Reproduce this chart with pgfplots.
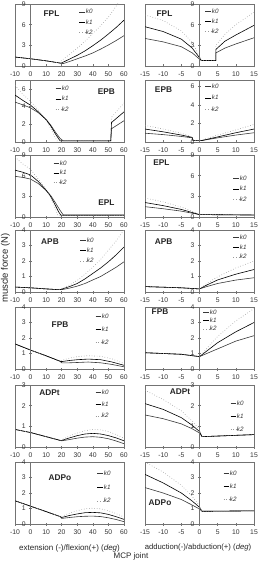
\documentclass[border=0pt]{standalone}
\usepackage{fontspec}
\setmainfont{Liberation Sans}
\usepackage{pgfplots}
\pgfplotsset{compat=1.18}

\definecolor{kzero}{gray}{0.22}
\definecolor{kone}{gray}{0.0}
\definecolor{ktwo}{gray}{0.6}
\definecolor{frame}{gray}{0.45}

\pgfplotsset{
  common/.style={
    scale only axis, width=109pt, height=62pt, ymin=0,
    tick align=center, major tick length=3pt,
    tick style={draw=frame, line width=0.5pt},
    every tick label/.append style={font=\fontsize{6.8}{7}\selectfont, text=black!80},
    /pgf/number format/assume math mode=true,
  },
  % data axis: frame plus x ticks along the bottom edge
  mcp/.style={
    common,
    axis line style={draw=frame, line width=0.5pt},
    xtick pos=left, ytick=\empty,
    xticklabel style={yshift=-1pt},
    legend style={draw=none, fill=none, inner sep=0pt, anchor=north west,
      font=\fontsize{6.3}{7}\selectfont\itshape, text=black!80,
      nodes={inner sep=0.6pt, text height=4.6pt, text depth=1pt}},
    legend cell align=left,
    legend image code/.code={\draw[#1] (0pt,0pt) -- (5.5pt,0pt);},
  },
  % overlay axis: the vertical axis at x = 0
  yax/.style={
    common, axis x line=none, axis y line=center,
    axis line style={-, draw=frame, line width=0.5pt},
  },
  leftp/.style={mcp, xmin=-10, xmax=60, xtick={-10,0,...,60}},
  rightp/.style={mcp, xmin=-15, xmax=15, xtick={-15,-10,...,15}},
  k0/.style={kzero, line width=0.6pt},
  k1/.style={kone, line width=0.6pt},
  k2/.style={ktwo, line width=0.6pt, dotted},
}
\newcommand{\ttl}[3]{\node[font=\bfseries\fontsize{8.3}{9}\selectfont, text=black!85] at (rel axis cs:#1,#2) {#3};}
% #1,#2: lower-left corner; #3,#4: x range; #5: ymax; #6: y ticks
\newcommand{\yaxis}[6]{%
  \begin{axis}[yax, at={(#1,#2)}, anchor=south west, xmin=#3, xmax=#4, ymax=#5, ytick={#6}]
  \end{axis}}

\begin{document}
\begin{tikzpicture}

% ---------------- FPL ----------------
\begin{axis}[leftp, at={(15pt,-66pt)}, anchor=south west, ymax=9,
  legend style={at={(0.587,0.93)}, row sep=3.5pt}]
\addplot[k0] coordinates {(-10,1.3)(0,1.05)(10,0.75)(17,0.5)(19,0.42)(21,0.35)(25,0.65)(30,1.05)(35,1.45)(40,1.9)(45,2.45)(50,3.05)(55,3.7)(60,4.4)};
\addplot[k1] coordinates {(-10,1.3)(0,1.05)(10,0.75)(17,0.5)(19,0.42)(20,0.45)(25,1.0)(30,1.55)(35,2.2)(40,2.95)(45,3.75)(50,4.65)(55,5.6)(60,6.65)};
\addplot[k2] coordinates {(-10,1.3)(0,1.05)(10,0.75)(17,0.5)(18,0.5)(20,0.8)(25,1.7)(30,2.6)(35,3.6)(40,4.7)(45,5.85)(50,7.1)(55,8.7)(60,10.4)};
\legend{k0,k1,k2}
\ttl{0.335}{0.84}{FPL}
\end{axis}
\yaxis{15pt}{-66pt}{-10}{60}{9}{0,3,6,9}

\begin{axis}[rightp, at={(145pt,-66pt)}, anchor=south west, ymax=9,
  legend style={at={(0.55,0.935)}, row sep=3.2pt}]
\addplot[k0] coordinates {(-15,4.0)(-10,3.5)(-5,2.8)(-2,1.9)(0,1.0)(0.5,0.8)(4.5,0.8)(4.5,1.9)(7,2.6)(10,3.2)(15,4.1)};
\addplot[k1] coordinates {(-15,5.7)(-10,5.0)(-5,3.9)(-2,2.6)(0,1.2)(0.5,0.8)(4.5,0.8)(4.5,2.4)(7,3.6)(10,4.5)(15,5.9)};
\addplot[k2] coordinates {(-15,7.4)(-10,6.6)(-5,5.1)(-2,3.4)(0,1.4)(0.5,0.8)(4.5,0.8)(4.5,3.0)(7,4.6)(10,6.0)(15,7.8)};
\legend{k0,k1,k2}
\ttl{0.179}{0.84}{FPL}
\end{axis}
\yaxis{145pt}{-66pt}{-15}{15}{9}{0,3,6,9}

% ---------------- EPB ----------------
\begin{axis}[leftp, at={(15pt,-142pt)}, anchor=south west, ymax=7,
  legend style={at={(0.367,0.92)}, row sep=3.8pt}]
\addplot[k0] coordinates {(-10,4.5)(-5,4.2)(0,3.85)(5,3.3)(10,2.55)(13,1.9)(16,1.1)(19,0.4)(21,0.12)(51.5,0.12)(52,1.5)(56,1.95)(60,2.4)};
\addplot[k1] coordinates {(-10,5.3)(-5,4.7)(0,4.15)(5,3.4)(10,2.5)(13,1.8)(16,0.9)(19,0.12)(51.5,0.12)(52,2.2)(56,2.8)(60,3.4)};
\addplot[k2] coordinates {(-10,6.4)(-5,5.4)(0,4.6)(5,3.6)(10,2.5)(13,1.5)(15,0.8)(17,0.12)(51.5,0.12)(52,2.8)(56,3.6)(60,4.4)};
\legend{k0,k1,k2}
\ttl{0.839}{0.81}{EPB}
\end{axis}
\yaxis{15pt}{-142pt}{-10}{60}{7}{0,2,4,6}

\begin{axis}[rightp, at={(145pt,-142pt)}, anchor=south west, ymax=6.7,
  legend style={at={(0.55,0.95)}, row sep=4.6pt}]
\addplot[k0] coordinates {(-15,0.95)(-10,0.8)(-5,0.6)(-2,0.45)(-1.8,0.15)(0.5,0.15)(5,0.45)(10,0.75)(15,1.0)};
\addplot[k1] coordinates {(-15,1.4)(-10,1.1)(-5,0.75)(-2,0.5)(-1.8,0.15)(0.5,0.15)(5,0.55)(10,1.0)(15,1.4)};
\addplot[k2] coordinates {(-15,1.8)(-10,1.4)(-5,0.95)(-2,0.55)(-1.8,0.15)(0.5,0.2)(5,0.75)(10,1.3)(15,1.9)};
\legend{k0,k1,k2}
\ttl{0.17}{0.84}{EPB}
\end{axis}
\yaxis{145pt}{-142pt}{-15}{15}{6.7}{0,2,4,6}

% ---------------- EPL ----------------
\begin{axis}[leftp, at={(15pt,-217pt)}, anchor=south west, ymax=9,
  legend style={at={(0.349,0.92)}, row sep=2.8pt}]
\addplot[k0] coordinates {(-10,5.9)(-5,5.75)(0,5.5)(5,4.85)(10,3.85)(13,3.1)(16,2.05)(19,0.95)(21,0.3)(60,0.3)};
\addplot[k1] coordinates {(-10,6.8)(-5,6.5)(0,6.1)(5,5.15)(10,3.9)(13,2.95)(16,1.65)(18,0.75)(19.5,0.25)(60,0.25)};
\addplot[k2] coordinates {(-10,8.7)(-5,7.7)(0,6.9)(5,5.5)(10,4.0)(13,2.8)(15,1.75)(17.5,0.25)(60,0.22)};
\legend{k0,k1,k2}
\ttl{0.839}{0.226}{EPL}
\end{axis}
\yaxis{15pt}{-217pt}{-10}{60}{9}{0,3,6,9}

\begin{axis}[rightp, at={(145pt,-217pt)}, anchor=south west, ymax=9,
  legend style={at={(0.807,0.677)}, row sep=3.6pt}]
\addplot[k0] coordinates {(-15,1.5)(-10,1.2)(-5,0.85)(0,0.35)(15,0.3)};
\addplot[k1] coordinates {(-15,2.1)(-10,1.65)(-5,1.1)(0,0.35)(15,0.28)};
\addplot[k2] coordinates {(-15,2.75)(-10,2.2)(-5,1.45)(0,0.4)(15,0.25)};
\legend{k0,k1,k2}
\ttl{0.151}{0.871}{EPL}
\end{axis}
\yaxis{145pt}{-217pt}{-15}{15}{9}{0,3,6,9}

% ---------------- APB ----------------
\begin{axis}[leftp, at={(15pt,-292pt)}, anchor=south west, ymax=4,
  legend style={at={(0.596,0.887)}, row sep=3.3pt}]
\addplot[k0] coordinates {(-10,0.32)(0,0.27)(10,0.2)(18,0.15)(20,0.15)(25,0.25)(30,0.38)(35,0.55)(40,0.78)(45,1.0)(50,1.3)(55,1.6)(60,1.95)};
\addplot[k1] coordinates {(-10,0.32)(0,0.27)(10,0.2)(18,0.15)(19,0.15)(25,0.35)(30,0.55)(35,0.85)(40,1.2)(45,1.55)(50,1.95)(55,2.4)(60,2.9)};
\addplot[k2] coordinates {(-10,0.32)(0,0.27)(10,0.2)(18,0.15)(18.5,0.17)(25,0.45)(30,0.75)(35,1.15)(40,1.6)(45,2.1)(50,2.7)(55,3.3)(60,4.0)};
\legend{k0,k1,k2}
\ttl{0.321}{0.806}{APB}
\end{axis}
\yaxis{15pt}{-292pt}{-10}{60}{4}{0,1,2,3,4}

\begin{axis}[rightp, at={(145pt,-292pt)}, anchor=south west, ymax=4,
  legend style={at={(0.807,0.935)}, row sep=2.8pt}]
\addplot[k0] coordinates {(-15,0.35)(-10,0.31)(-5,0.27)(0,0.2)(2,0.35)(5,0.55)(10,0.77)(15,0.92)};
\addplot[k1] coordinates {(-15,0.35)(-10,0.31)(-5,0.27)(0,0.2)(2,0.45)(5,0.78)(10,1.15)(15,1.45)};
\addplot[k2] coordinates {(-15,0.35)(-10,0.31)(-5,0.27)(0,0.2)(2,0.55)(5,0.98)(10,1.55)(15,2.0)};
\legend{k0,k1,k2}
\ttl{0.17}{0.806}{APB}
\end{axis}
\yaxis{145pt}{-292pt}{-15}{15}{4}{0,1,2,3,4}

% ---------------- FPB ----------------
\begin{axis}[leftp, at={(15pt,-369pt)}, anchor=south west, ymax=4,
  legend style={at={(0.734,0.903)}, row sep=6.2pt}]
\addplot[k0] coordinates {(-10,1.62)(0,1.22)(10,0.85)(19,0.5)(20,0.4)(25,0.4)(30,0.42)(37,0.45)(45,0.4)(52,0.3)(60,0.14)};
\addplot[k1] coordinates {(-10,1.62)(0,1.22)(10,0.85)(19,0.5)(20,0.48)(25,0.55)(30,0.6)(37,0.64)(45,0.6)(52,0.46)(60,0.24)};
\addplot[k2] coordinates {(-10,1.62)(0,1.22)(10,0.85)(19,0.5)(20,0.55)(25,0.7)(30,0.8)(37,0.86)(45,0.82)(52,0.66)(60,0.36)};
\legend{k0,k1,k2}
\ttl{0.413}{0.71}{FPB}
\end{axis}
\yaxis{15pt}{-369pt}{-10}{60}{4}{0,1,2,3,4}

\begin{axis}[rightp, at={(145pt,-369pt)}, anchor=south west, ymax=4,
  legend style={at={(0.532,0.968)}, row sep=1.4pt}]
\addplot[k0] coordinates {(-15,1.05)(-10,1.0)(-5,0.95)(0,0.8)(2.5,1.05)(5,1.3)(10,1.8)(15,2.15)};
\addplot[k1] coordinates {(-15,1.05)(-10,1.0)(-5,0.95)(0,0.8)(2.5,1.25)(5,1.7)(10,2.4)(15,3.0)};
\addplot[k2] coordinates {(-15,1.05)(-10,1.0)(-5,0.95)(0,0.8)(2.5,1.45)(5,2.1)(10,3.1)(15,3.9)};
\legend{k0,k1,k2}
\ttl{0.138}{0.919}{FPB}
\end{axis}
\yaxis{145pt}{-369pt}{-15}{15}{4}{0,1,2,3,4}

% ---------------- ADPt ----------------
\begin{axis}[leftp, at={(15pt,-447pt)}, anchor=south west, ymax=3,
  legend style={at={(0.734,0.935)}, row sep=4.8pt}]
\addplot[k0] coordinates {(-10,0.85)(0,0.7)(10,0.5)(19,0.32)(20,0.3)(25,0.36)(30,0.43)(35,0.48)(40,0.5)(45,0.47)(50,0.4)(55,0.29)(60,0.16)};
\addplot[k1] coordinates {(-10,0.85)(0,0.7)(10,0.5)(19,0.32)(20,0.32)(25,0.44)(30,0.55)(35,0.63)(40,0.66)(45,0.63)(50,0.55)(55,0.44)(60,0.3)};
\addplot[k2] coordinates {(-10,0.85)(0,0.7)(10,0.5)(19,0.32)(20,0.35)(25,0.53)(30,0.68)(35,0.79)(40,0.85)(45,0.83)(50,0.75)(55,0.6)(60,0.43)};
\legend{k0,k1,k2}
\ttl{0.317}{0.871}{ADPt}
\end{axis}
\yaxis{15pt}{-447pt}{-10}{60}{3}{0,1,2,3}

\begin{axis}[rightp, at={(145pt,-447pt)}, anchor=south west, ymax=3,
  legend style={at={(0.78,0.758)}, row sep=6.2pt}]
\addplot[k0] coordinates {(-15,1.55)(-10,1.37)(-5,1.12)(-2,0.88)(0,0.68)(0.7,0.5)(15,0.6)};
\addplot[k1] coordinates {(-15,2.1)(-10,1.82)(-5,1.42)(-2,1.05)(0,0.75)(0.7,0.5)(15,0.6)};
\addplot[k2] coordinates {(-15,2.75)(-10,2.3)(-5,1.75)(-2,1.25)(0,0.85)(0.7,0.5)(15,0.6)};
\legend{k0,k1,k2}
\ttl{0.321}{0.887}{ADPt}
\end{axis}
\yaxis{145pt}{-447pt}{-15}{15}{3}{0,1,2,3}

% ---------------- ADPo ----------------
\begin{axis}[leftp, at={(15pt,-524pt)}, anchor=south west, ymax=4,
  legend style={at={(0.752,0.871)}, row sep=6.8pt}]
\addplot[k0] coordinates {(-10,1.5)(0,1.15)(10,0.8)(19,0.48)(20,0.36)(25,0.42)(30,0.47)(35,0.5)(40,0.51)(45,0.48)(50,0.4)(55,0.29)(60,0.15)};
\addplot[k1] coordinates {(-10,1.5)(0,1.15)(10,0.8)(19,0.48)(20,0.42)(25,0.55)(30,0.65)(35,0.73)(40,0.75)(45,0.72)(50,0.62)(55,0.47)(60,0.3)};
\addplot[k2] coordinates {(-10,1.5)(0,1.15)(10,0.8)(19,0.48)(20,0.5)(25,0.7)(30,0.86)(35,0.98)(40,1.02)(45,0.98)(50,0.86)(55,0.67)(60,0.45)};
\legend{k0,k1,k2}
\ttl{0.413}{0.742}{ADPo}
\end{axis}
\yaxis{15pt}{-524pt}{-10}{60}{4}{0,1,2,3,4}

\begin{axis}[rightp, at={(145pt,-524pt)}, anchor=south west, ymax=4,
  legend style={at={(0.716,0.871)}, row sep=6.2pt}]
\addplot[k0] coordinates {(-15,2.35)(-10,2.0)(-5,1.58)(-2,1.22)(0,0.97)(0.7,0.82)(15,0.85)};
\addplot[k1] coordinates {(-15,3.2)(-10,2.65)(-5,2.0)(-2,1.48)(0,1.08)(0.7,0.82)(15,0.85)};
\addplot[k2] coordinates {(-15,4.0)(-10,3.35)(-5,2.5)(-2,1.78)(0,1.18)(0.7,0.82)(15,0.85)};
\legend{k0,k1,k2}
\ttl{0.138}{0.339}{ADPo}
\end{axis}
\yaxis{145pt}{-524pt}{-15}{15}{4}{0,1,2,3,4}

% shared axis titles
\node[rotate=90, font=\fontsize{9.5}{10}\selectfont, text=black!85, inner sep=0pt] at (5.5pt,-268pt) {muscle force (N)};
\node[font=\fontsize{8}{9}\selectfont, text=black!85] at (69.5pt,-548pt) {extension (-)/flexion(+) (\textit{deg})};
\node[font=\fontsize{7.7}{9}\selectfont, text=black!85, inner sep=0pt] at (198pt,-548pt) {adduction(-)/abduction(+) (\textit{deg})};
\node[font=\fontsize{8}{9}\selectfont, text=black!85, inner sep=0pt] at (131pt,-556.5pt) {MCP joint};

\pgfresetboundingbox
\path[use as bounding box] (0pt,0pt) rectangle (257pt,-561pt);
\end{tikzpicture}
\end{document}
